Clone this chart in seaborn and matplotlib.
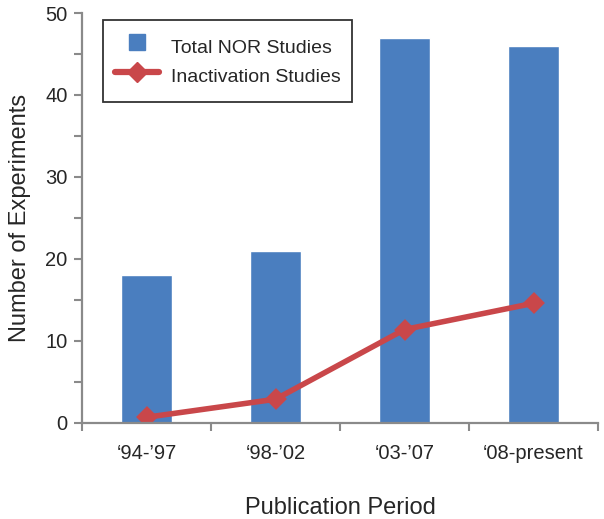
import pandas as pd
import seaborn as sns
import matplotlib.pyplot as plt
from matplotlib.lines import Line2D
from matplotlib.ticker import MultipleLocator

# data
periods = ["\u201894-\u201997", "\u201898-\u201902", "\u201803-\u201907", "\u201808-present"]
total_nor = [18, 21, 47, 46]
inactivation = [0.7, 2.9, 11.4, 14.6]

df = pd.DataFrame({'period': periods, 'total': total_nor, 'inact': inactivation})

sns.set_style('white')
plt.rcParams['font.family'] = ['Liberation Sans', 'DejaVu Sans']

bar_color = '#4a7ebf'
line_color = '#c9474a'
axis_color = '#8a8a8a'

fig = plt.figure(figsize=(6.04, 5.19), dpi=100)
ax = fig.add_axes([82 / 604, 96 / 519, 516 / 604, 410 / 519])

sns.barplot(data=df, x='period', y='total', color=bar_color, width=0.39,
            saturation=1, ax=ax)
sns.pointplot(data=df, x='period', y='inact', color=line_color, markers='D',
              markersize=8, linewidth=4, ax=ax)

ax.set_xlim(-0.5, 3.5)
ax.set_ylim(0, 50)

# y ticks: labels every 10, ticks every 5
ax.yaxis.set_major_locator(MultipleLocator(10))
ax.yaxis.set_minor_locator(MultipleLocator(5))
ax.tick_params(axis='y', which='both', direction='out', length=6, width=1.5,
               color=axis_color, left=True, labelsize=14.5, pad=4.5)

# x ticks: labels at the categories, tick marks between them
ax.set_xticks(range(len(periods)))
ax.set_xticklabels(periods)
ax.set_xticks([-0.5, 0.5, 1.5, 2.5, 3.5], minor=True)
ax.tick_params(axis='x', which='major', length=0, labelsize=14.5, pad=15)
ax.tick_params(axis='x', which='minor', direction='out', length=6, width=1.5,
               color=axis_color, bottom=True)

sns.despine(ax=ax)
for side in ['left', 'bottom']:
    ax.spines[side].set_color(axis_color)
    ax.spines[side].set_linewidth(1.6)

ax.set_xlabel('Publication Period', fontsize=17, labelpad=24.5)
ax.set_ylabel('Number of Experiments', fontsize=17)
ax.yaxis.set_label_coords(-51 / 516, 0.5)

handles = [
    Line2D([], [], marker='s', linestyle='none', color=bar_color, markersize=12),
    Line2D([], [], marker='D', color=line_color, linewidth=4.5, markersize=10),
]
leg = ax.legend(handles, ['Total NOR Studies', 'Inactivation Studies'],
                loc='upper left', bbox_to_anchor=(21 / 516, 403 / 410), borderaxespad=0,
                fontsize=14, fancybox=False, frameon=True, handlelength=2.3,
                handleheight=1.95, borderpad=0.6, labelspacing=0.0, handletextpad=0.6)
leg.get_frame().set_edgecolor('black')
leg.get_frame().set_linewidth(1.3)

fig.savefig('out.png', dpi=100)
